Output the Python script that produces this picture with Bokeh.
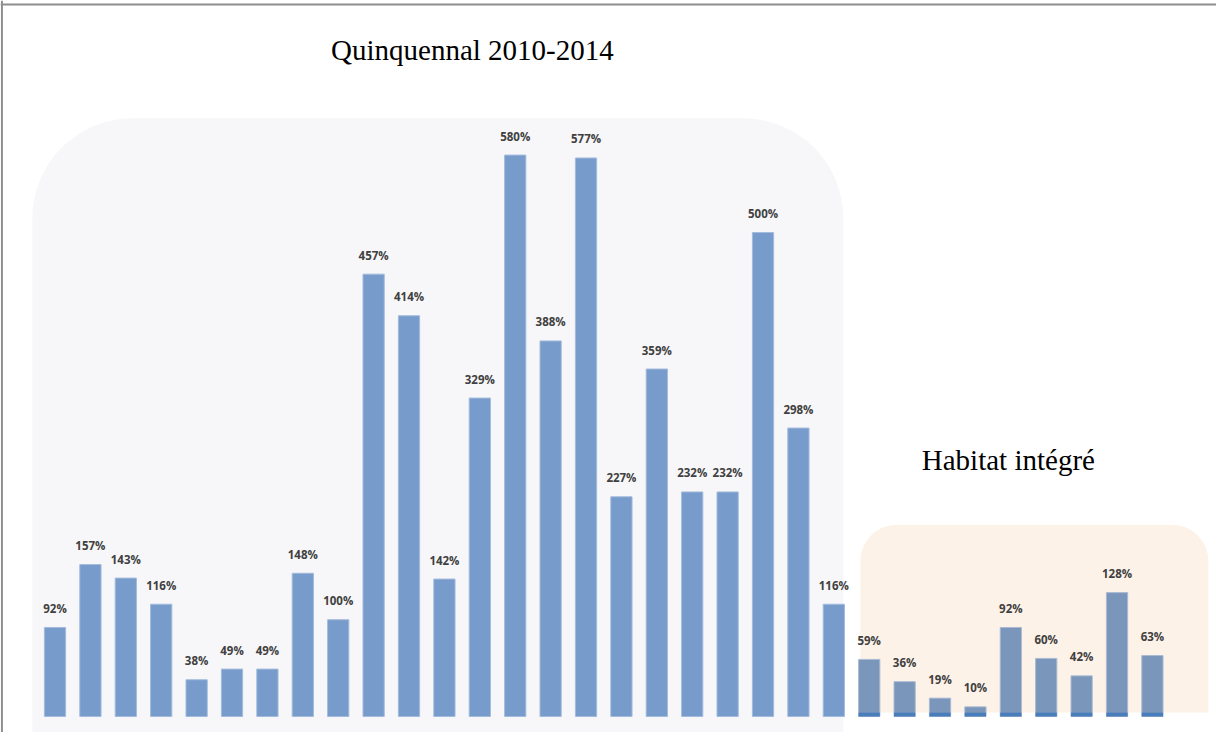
from bokeh.plotting import figure
from bokeh.models import ColumnDataSource, BoxAnnotation, Span, Range1d, Label
from bokeh.core.properties import value
from bokeh.embed import file_html
from bokeh.resources import INLINE

# ---- data ----
quinquennal_values = [92, 157, 143, 116, 38, 49, 49, 148, 100, 457, 414, 142, 329,
                      580, 388, 577, 227, 359, 232, 232, 500, 298, 116]
habitat_values = [59, 36, 19, 10, 92, 60, 42, 128, 63]
group_titles = ["Quinquennal 2010-2014", "Habitat intégré"]

n_q = len(quinquennal_values)
n_h = len(habitat_values)
xq = list(range(n_q))
xh = list(range(n_q, n_q + n_h))

src_q = ColumnDataSource(dict(x=xq, top=quinquennal_values,
                              label=[f"{v}%" for v in quinquennal_values]))
src_h = ColumnDataSource(dict(x=xh, top=habitat_values,
                              label=[f"{v}%" for v in habitat_values]))

W, H = 1216, 732
p = figure(width=W, height=H, output_backend="svg", toolbar_location=None,
           x_range=Range1d(-1.54, 32.81), y_range=Range1d(-16.5, 739.7),
           min_border=0, min_border_left=0, min_border_right=0,
           min_border_top=0, min_border_bottom=0,
           x_axis_location=None, y_axis_location=None)
p.grid.visible = False
p.outline_line_color = None
p.background_fill_color = "white"
p.border_fill_color = "white"

# group backgrounds (rounded panels)
bg_q = BoxAnnotation(left=-0.64, right=22.27, top=618, bottom=-20,
                     fill_color="#f7f7f9", fill_alpha=1.0, line_color=None,
                     border_radius=(100, 100, 0, 0), level="underlay")
bg_h = BoxAnnotation(left=22.75, right=32.58, top=198, bottom=4.1,
                     fill_color="#fdf2e8", fill_alpha=1.0, line_color=None,
                     border_radius=(36, 36, 0, 0), level="underlay")
p.add_layout(bg_q)
p.add_layout(bg_h)

# frame border lines (top and left)
p.add_layout(Span(location=-1.50, dimension="height", line_color="#8e8e8e", line_width=2))
p.add_layout(Span(location=735.5, dimension="width", line_color="#8e8e8e", line_width=2))

BAR_W = 0.6
p.vbar(x="x", top="top", bottom=0, width=BAR_W, source=src_q,
       fill_color="#779bca", line_color="#a3bbdc", line_width=1)
p.vbar(x="x", top="top", bottom=0, width=BAR_W, source=src_h,
       fill_color="#7b96bb", line_color="#a9bad2", line_width=1)
# darker base strip of the highlighted group
STRIP = 4
p.vbar(x=xh, top=[min(STRIP, v) for v in habitat_values], bottom=0, width=BAR_W,
       fill_color="#4a7ebb", line_color=None)

for src in (src_q, src_h):
    p.text(x="x", y="top", text="label", source=src, text_align="center",
           text_baseline="middle", y_offset=-19,
           text_font=value("Open Sans"), text_font_style="bold",
           text_font_size="11.5px", text_color="#404040")

p.add_layout(Label(x=11.79, y=689, text=group_titles[0], text_align="center",
                   text_baseline="middle", text_font="Liberation Serif",
                   text_font_size="29px", text_color="#000000"))
p.add_layout(Label(x=26.93, y=265.5, text=group_titles[1], text_align="center",
                   text_baseline="middle", text_font="Liberation Serif",
                   text_font_size="29px", text_color="#000000"))

open("out.html", "w").write(file_html(p, INLINE))
